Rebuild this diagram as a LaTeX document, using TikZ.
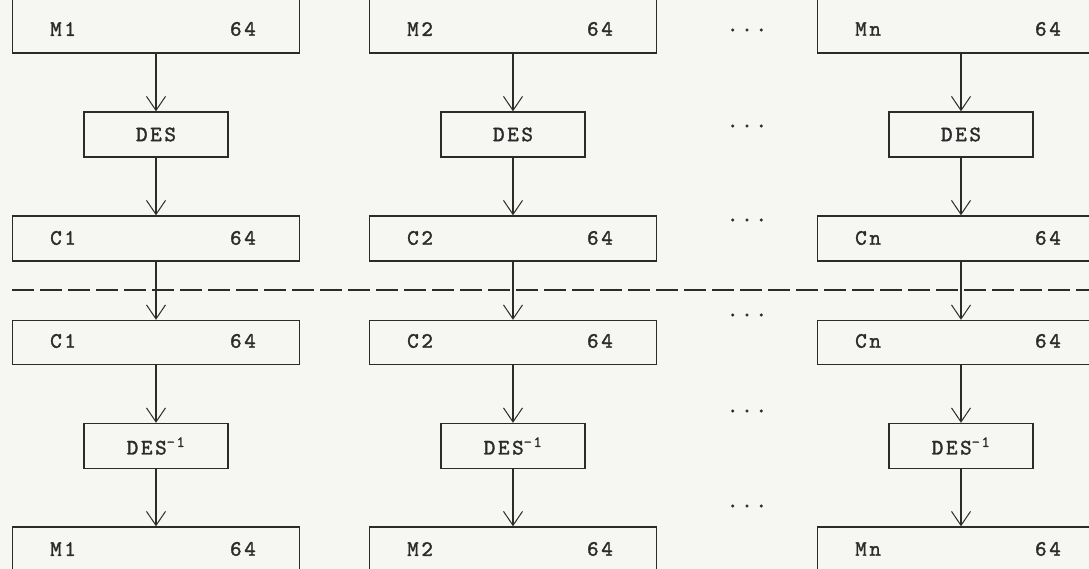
\documentclass[tikz,border=0pt]{standalone}
\usepackage{fontspec}
\usetikzlibrary{arrows.meta}
\definecolor{ink}{HTML}{2B2B2B}
\definecolor{paper}{HTML}{F6F6F3}
\newfontfamily\dmface{lmmono10-regular.otf}[LetterSpace=12,FakeBold=1.6]
\newcommand{\dmfont}{\dmface\fontsize{22}{22}\selectfont}
\begin{document}
\begin{tikzpicture}[x=1pt,y=-1pt,
  wide/.style={draw=ink, line width=1.4pt, minimum width=287pt, inner sep=0pt},
  small/.style={draw=ink, line width=1.4pt, minimum width=144pt, minimum height=45pt, inner sep=0pt,
    font=\dmfont, text=ink},
  lbl/.style={font=\dmfont, text=ink, inner sep=0pt},
  dotsnode/.style={font=\dmfont, text=ink, inner sep=0pt},
  flow/.style={draw=ink, line width=1.8pt, -{Straight Barb[length=14pt,width=19pt,line width=1pt]}},
  sepline/.style={draw=ink, line width=1.2pt, dash pattern=on 22pt off 6pt}]
\fill[paper] (0,0) rectangle (1089,569);
\useasboundingbox (0,0) rectangle (1089,569);
\foreach \k/\x/\lx/\rx in {1/156/50/256, 2/513/407/613, n/961/855/1061}{
  % boxes
  \node[wide, minimum height=58pt] (m\k) at (\x,24) {};
  \node[small] (d\k) at (\x,134.5) {DES};
  \node[wide, minimum height=45pt] (c\k) at (\x,238.5) {};
  \node[wide, minimum height=44pt] (e\k) at (\x,342.5) {};
  \node[small] (i\k) at (\x,446) {DES\textsuperscript{-1}};
  \node[wide, minimum height=58pt] (p\k) at (\x,556) {};
  % labels
  \node[lbl, anchor=west] (ml\k) at (\lx,29) {M\k};
  \node[lbl, anchor=east] (mr\k) at (\rx,29) {64};
  \node[lbl, anchor=west] (cl\k) at (\lx,238) {C\k};
  \node[lbl, anchor=east] (cr\k) at (\rx,238) {64};
  \node[lbl, anchor=west] (el\k) at (\lx,341) {C\k};
  \node[lbl, anchor=east] (er\k) at (\rx,341) {64};
  \node[lbl, anchor=west] (pl\k) at (\lx,549) {M\k};
  \node[lbl, anchor=east] (pr\k) at (\rx,549) {64};
  % connectors
  \draw[flow] (m\k) -- (d\k);
  \draw[flow] (d\k) -- (c\k);
  \draw[flow] (c\k) -- (e\k);
  \draw[flow] (e\k) -- (i\k);
  \draw[flow] (i\k) -- (p\k);
}
\foreach \j/\y in {1/30, 2/126, 3/220, 4/315, 5/411, 6/506}{
  \node[dotsnode] (dots\j) at (747,\y) {...};
}
\coordinate (sepL) at (12,290);
\coordinate (sepR) at (1095,290);
\draw[sepline] (sepL) -- (sepR);
\end{tikzpicture}
\end{document}
